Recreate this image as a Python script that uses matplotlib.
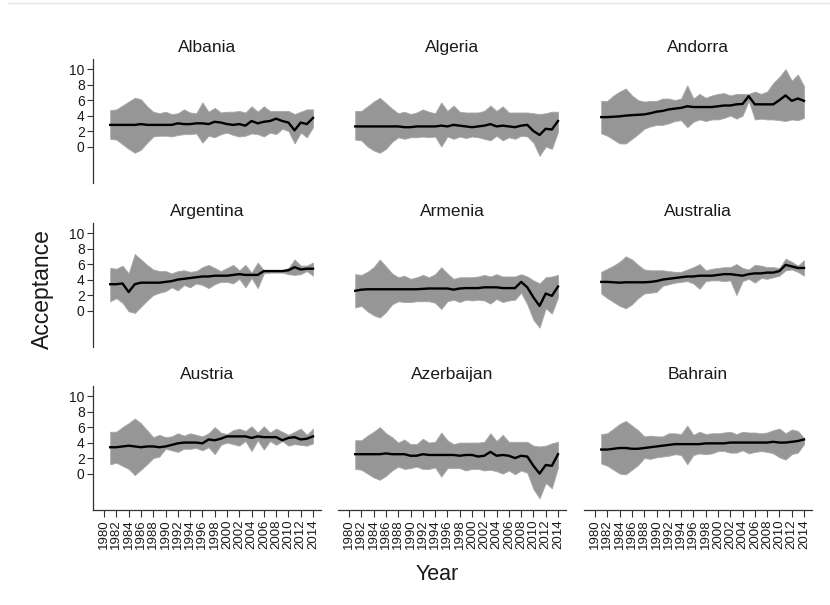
#!/usr/bin/env python3
"""Acceptance by country, 1981-2014, mean with band."""

import numpy as np
import matplotlib
matplotlib.use("Agg")
import matplotlib.pyplot as plt

plt.rcParams["font.family"] = ["Liberation Sans", "DejaVu Sans"]

years = list(range(1981, 2015))
year_ticks = list(range(1980, 2015, 2))
y_ticks = [0, 2, 4, 6, 8, 10]
countries = ["Albania", "Algeria", "Andorra", "Argentina", "Armenia",
             "Australia", "Austria", "Azerbaijan", "Bahrain"]

albania_mean = [2.8, 2.8, 2.8, 2.8, 2.8, 2.9, 2.8, 2.8, 2.8, 2.8, 2.8,
                3.0, 2.9, 2.9, 3.0, 3.0, 2.9, 3.2, 3.1, 2.9, 2.8,
                2.9, 2.7, 3.3, 3.0, 3.2, 3.3, 3.6, 3.3, 3.1, 2.1, 3.1, 2.9, 3.7]
albania_upper = [4.7, 4.8, 5.3, 5.8, 6.3, 6.1, 5.2, 4.5, 4.3, 4.5, 4.2,
                 4.3, 4.8, 4.4, 4.3, 5.7, 4.5, 5.0, 4.4, 4.5, 4.5,
                 4.6, 4.4, 5.2, 4.5, 5.2, 4.6, 4.6, 4.6, 4.6, 4.2, 4.5, 4.8, 4.8]
albania_lower = [1.0, 0.9, 0.3, -0.3, -0.8, -0.4, 0.5, 1.3, 1.4, 1.4, 1.3,
                 1.5, 1.6, 1.6, 1.7, 0.5, 1.4, 1.2, 1.6, 1.8, 1.5,
                 1.3, 1.4, 1.7, 1.6, 1.3, 1.8, 1.6, 2.3, 2.0, 0.4, 1.8, 1.2, 2.5]

algeria_mean = [2.6, 2.6, 2.6, 2.6, 2.6, 2.6, 2.6, 2.6, 2.5, 2.5, 2.6,
                2.6, 2.6, 2.6, 2.7, 2.6, 2.8, 2.7, 2.6, 2.5, 2.6,
                2.7, 2.9, 2.6, 2.7, 2.6, 2.5, 2.7, 2.8, 2.0, 1.5, 2.3, 2.2, 3.3]
algeria_upper = [4.6, 4.6, 5.2, 5.8, 6.3, 5.6, 4.9, 4.3, 4.5, 4.2, 4.4,
                 4.8, 4.5, 4.3, 5.7, 4.6, 5.3, 4.5, 4.4, 4.4, 4.4,
                 4.6, 5.3, 4.6, 5.2, 4.4, 4.4, 4.4, 4.4, 4.3, 4.2, 4.3, 4.5, 4.5]
algeria_lower = [0.9, 0.8, 0.0, -0.5, -0.8, -0.3, 0.6, 1.2, 1.0, 1.2, 1.2,
                 1.3, 1.2, 1.3, 0.0, 1.3, 1.0, 1.3, 1.1, 1.3, 1.2,
                 1.0, 0.8, 1.4, 0.8, 1.2, 1.0, 1.4, 1.3, 0.5, -1.2, 0.0, -0.3, 1.9]

andorra_mean = [3.8, 3.8, 3.85, 3.9, 4.0, 4.05, 4.1, 4.15, 4.3, 4.5, 4.6,
                4.8, 4.9, 5.0, 5.2, 5.1, 5.1, 5.1, 5.1, 5.2, 5.3,
                5.3, 5.45, 5.5, 6.5, 5.45, 5.45, 5.45, 5.45, 6.0, 6.6, 5.9, 6.2, 5.9]
andorra_upper = [5.9, 5.9, 6.6, 7.1, 7.5, 6.6, 6.0, 5.8, 5.9, 5.9, 6.2,
                 6.2, 6.0, 6.2, 7.9, 6.2, 6.8, 6.3, 6.6, 6.8, 6.9,
                 6.6, 6.8, 6.8, 6.8, 7.1, 6.8, 7.1, 8.2, 9.0, 10.0, 8.5, 9.3, 7.8]
andorra_lower = [1.7, 1.4, 0.9, 0.4, 0.4, 1.0, 1.6, 2.3, 2.6, 2.8, 2.8,
                 3.0, 3.3, 3.4, 2.5, 3.2, 3.5, 3.3, 3.5, 3.5, 3.7,
                 4.0, 3.6, 4.0, 5.9, 3.5, 3.6, 3.5, 3.5, 3.4, 3.3, 3.5, 3.4, 3.7]

argentina_mean = [3.4, 3.4, 3.5, 2.4, 3.4, 3.6, 3.6, 3.6, 3.6, 3.7, 3.8,
                  4.0, 4.1, 4.2, 4.3, 4.4, 4.4, 4.5, 4.5, 4.5, 4.6,
                  4.7, 4.6, 4.6, 4.6, 5.1, 5.1, 5.1, 5.1, 5.2, 5.6, 5.3, 5.4, 5.4]
argentina_upper = [5.5, 5.4, 5.8, 4.8, 7.3, 6.6, 5.9, 5.3, 5.1, 5.1, 4.8,
                   5.1, 5.2, 5.0, 5.1, 5.6, 5.9, 5.5, 5.1, 5.5, 5.9,
                   5.2, 5.9, 4.9, 6.2, 5.2, 5.2, 5.2, 5.2, 5.5, 6.6, 5.8, 5.8, 6.2]
argentina_lower = [1.2, 1.6, 1.0, -0.1, -0.3, 0.5, 1.3, 2.0, 2.3, 2.5, 3.0,
                   2.6, 3.3, 3.0, 3.5, 3.3, 2.9, 3.4, 3.7, 3.7, 3.5,
                   4.1, 3.0, 4.2, 2.9, 4.8, 4.9, 4.9, 4.9, 4.7, 4.6, 4.7, 5.1, 4.5]

armenia_mean = [2.55, 2.7, 2.75, 2.75, 2.75, 2.75, 2.75, 2.75, 2.75, 2.75, 2.75,
                2.8, 2.85, 2.85, 2.85, 2.85, 2.7, 2.85, 2.9, 2.9, 2.9,
                3.0, 3.0, 3.0, 2.9, 2.9, 2.9, 3.7, 3.0, 1.7, 0.6, 2.2, 1.9, 3.1]
armenia_upper = [4.7, 4.6, 5.0, 5.6, 6.6, 5.7, 4.8, 4.3, 4.5, 4.1, 4.3,
                 4.6, 4.3, 4.7, 5.6, 4.8, 4.1, 4.3, 4.3, 4.3, 4.4,
                 4.6, 4.4, 4.7, 4.4, 4.4, 4.4, 4.7, 4.4, 3.9, 3.5, 4.3, 4.4, 4.6]
armenia_lower = [0.4, 0.6, -0.1, -0.6, -0.9, -0.2, 0.8, 1.2, 1.1, 1.1, 1.2,
                 1.2, 1.2, 1.0, 0.2, 1.2, 1.4, 1.1, 1.4, 1.3, 1.4,
                 1.3, 0.9, 1.5, 1.1, 1.3, 1.4, 2.3, 0.8, -1.2, -2.2, 0.3, -0.4, 1.7]

australia_mean = [3.7, 3.7, 3.65, 3.6, 3.65, 3.65, 3.65, 3.65, 3.7, 3.8, 4.0,
                  4.1, 4.2, 4.3, 4.4, 4.4, 4.5, 4.5, 4.5, 4.6, 4.7,
                  4.7, 4.6, 4.5, 4.7, 4.8, 4.8, 4.9, 4.9, 5.1, 5.9, 5.7, 5.5, 5.5]
australia_upper = [5.0, 5.4, 5.8, 6.3, 7.0, 6.6, 5.9, 5.3, 5.2, 5.2, 5.2,
                   5.1, 5.0, 5.0, 5.3, 5.6, 6.0, 5.2, 5.4, 5.5, 5.6,
                   5.6, 6.0, 5.5, 5.3, 5.9, 5.8, 5.6, 5.6, 5.5, 6.7, 6.3, 5.8, 6.5]
australia_lower = [2.2, 1.6, 1.1, 0.6, 0.3, 0.8, 1.6, 2.2, 2.3, 2.4, 3.2,
                   3.4, 3.6, 3.7, 3.8, 3.5, 2.8, 3.8, 3.9, 3.9, 3.8,
                   3.9, 2.0, 3.8, 4.1, 3.6, 4.2, 4.1, 4.3, 4.5, 5.2, 5.3, 5.0, 4.5]

austria_mean = [3.4, 3.4, 3.5, 3.6, 3.5, 3.4, 3.5, 3.5, 3.4, 3.5, 3.7,
                3.9, 4.0, 4.0, 4.0, 3.9, 4.4, 4.3, 4.5, 4.8, 4.8,
                4.8, 4.8, 4.6, 4.8, 4.7, 4.7, 4.7, 4.3, 4.6, 4.7, 4.4, 4.5, 4.8]
austria_upper = [5.4, 5.4, 6.0, 6.5, 7.1, 6.5, 5.6, 4.7, 5.0, 4.7, 4.8,
                 5.2, 4.9, 5.2, 5.0, 4.8, 5.2, 6.0, 5.3, 5.1, 5.6,
                 5.8, 5.5, 6.1, 5.3, 6.1, 5.3, 5.8, 5.4, 5.0, 5.4, 5.8, 5.0, 5.8]
austria_lower = [1.2, 1.4, 1.0, 0.6, -0.2, 0.5, 1.2, 2.0, 2.2, 3.2, 3.0,
                 2.8, 3.2, 3.2, 3.3, 3.0, 3.4, 2.5, 3.7, 4.0, 3.8,
                 3.6, 4.2, 2.9, 4.3, 3.1, 4.2, 3.7, 4.2, 3.6, 3.8, 3.7, 3.6, 3.9]

azerbaijan_mean = [2.5, 2.5, 2.5, 2.5, 2.5, 2.6, 2.5, 2.5, 2.5, 2.3, 2.3,
                   2.5, 2.4, 2.4, 2.4, 2.4, 2.4, 2.3, 2.4, 2.4, 2.2,
                   2.3, 2.8, 2.3, 2.4, 2.3, 2.0, 2.3, 2.2, 1.0, 0.0, 1.1, 1.0, 2.5]
azerbaijan_upper = [4.3, 4.3, 4.9, 5.4, 6.0, 5.2, 4.7, 4.0, 4.4, 3.8, 3.8,
                    4.5, 4.0, 4.1, 5.3, 4.3, 3.8, 4.0, 4.0, 4.0, 4.0,
                    4.1, 5.2, 4.2, 5.0, 4.1, 4.1, 4.1, 4.1, 3.6, 3.5, 3.6, 3.9, 4.1]
azerbaijan_lower = [0.6, 0.5, 0.0, -0.5, -0.8, -0.3, 0.4, 0.9, 0.6, 0.7, 0.9,
                    0.6, 0.6, 0.8, -0.4, 0.7, 0.7, 0.7, 0.4, 0.6, 0.6,
                    0.4, 0.5, 0.3, 0.0, 0.4, -0.1, 0.4, 0.1, -2.0, -3.2, -1.2, -1.9, 0.8]

bahrain_mean = [3.1, 3.1, 3.2, 3.3, 3.3, 3.2, 3.2, 3.3, 3.4, 3.5, 3.6,
                3.7, 3.8, 3.8, 3.8, 3.8, 3.8, 3.9, 3.9, 3.9, 3.9,
                4.0, 4.0, 4.0, 4.0, 4.0, 4.0, 4.0, 4.1, 4.0, 4.0, 4.1, 4.2, 4.4]
bahrain_upper = [5.1, 5.2, 5.8, 6.4, 6.8, 6.2, 5.6, 4.8, 4.9, 4.8, 4.8,
                 5.2, 5.2, 5.1, 6.2, 5.0, 5.4, 5.1, 5.2, 5.2, 5.3,
                 5.4, 5.1, 5.4, 5.3, 5.3, 5.2, 5.3, 5.6, 5.8, 5.2, 5.7, 5.5, 4.6]
bahrain_lower = [1.3, 1.0, 0.5, 0.0, -0.1, 0.5, 1.1, 2.0, 1.9, 2.1, 2.2,
                 2.3, 2.5, 2.4, 1.2, 2.4, 2.6, 2.5, 2.6, 2.9, 2.9,
                 2.7, 2.7, 3.0, 2.6, 2.8, 2.9, 2.8, 2.6, 2.1, 1.8, 2.5, 2.7, 3.8]

means = [albania_mean, algeria_mean, andorra_mean, argentina_mean, armenia_mean,
         australia_mean, austria_mean, azerbaijan_mean, bahrain_mean]
uppers = [albania_upper, algeria_upper, andorra_upper, argentina_upper, armenia_upper,
          australia_upper, austria_upper, azerbaijan_upper, bahrain_upper]
lowers = [albania_lower, algeria_lower, andorra_lower, argentina_lower, armenia_lower,
          australia_lower, austria_lower, azerbaijan_lower, bahrain_lower]

W, H = 830, 605
fig = plt.figure(figsize=(W / 100, H / 100), dpi=100)

# panel placement in pixels
col_left = [93, 338, 584]
row_top = [59, 223, 386]
pw, ph = 228, 124
axis_col = "#333333"
text_col = "#1a1a1a"

for i, name in enumerate(countries):
    r, c = divmod(i, 3)
    ax = fig.add_axes([col_left[c] / W, (H - row_top[r] - ph) / H, pw / W, ph / H])
    ax.fill_between(years, lowers[i], uppers[i], color="#969696", lw=0.6,
                    edgecolor="#a8a8a8")
    ax.plot(years, means[i], color="black", lw=1.7)
    ax.set_xlim(1978.2, 2015.3)
    ax.set_ylim(-4.7, 11.3)
    ax.set_title(name, fontsize=12.5, color=text_col, pad=5)
    for s in ["top", "right"]:
        ax.spines[s].set_visible(False)
    ax.spines["left"].set_visible(c == 0)
    ax.spines["bottom"].set_visible(r == 2)
    for s in ["left", "bottom"]:
        ax.spines[s].set_color(axis_col)
        ax.spines[s].set_linewidth(0.9)
    if c == 0:
        ax.set_yticks(y_ticks)
        ax.tick_params(axis="y", length=4, width=0.8, color=axis_col,
                       labelsize=10, labelcolor=text_col, pad=2)
    else:
        ax.set_yticks([])
    if r == 2:
        ax.set_xticks(year_ticks)
        ax.set_xticklabels([str(y) for y in year_ticks], rotation=90)
        ax.tick_params(axis="x", length=5, width=0.8, color=axis_col,
                       labelsize=9.5, labelcolor=text_col, pad=2)
    else:
        ax.set_xticks([])
    ax.patch.set_alpha(0)

fig.text(42 / W, 1 - 289 / H, "Acceptance", rotation=90, ha="center", va="center",
         fontsize=16.5, color=text_col)
fig.text(437 / W, 1 - 575 / H, "Year", ha="center", va="center",
         fontsize=15.5, color=text_col)
fig.add_artist(plt.Line2D([0.01, 1.0], [1 - 3 / H, 1 - 3 / H], color="#e6e6e6", lw=1))

fig.savefig("out.png", dpi=100)
